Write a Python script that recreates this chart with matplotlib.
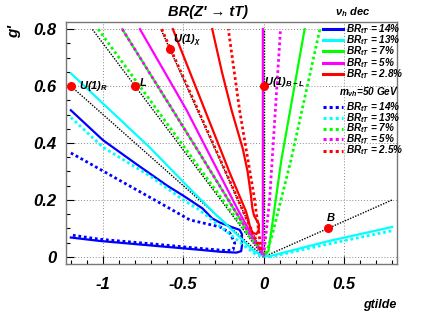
import matplotlib
matplotlib.use('Agg')

import numpy as np
from matplotlib import pyplot as plt

plt.rcParams['font.family'] = ['Liberation Sans', 'DejaVu Sans']
plt.rcParams['font.weight'] = 'bold'
plt.rcParams['font.style'] = 'italic'
plt.rcParams['mathtext.fontset'] = 'custom'
plt.rcParams['mathtext.rm'] = 'Liberation Sans:bold:italic'
plt.rcParams['mathtext.it'] = 'Liberation Sans:bold:italic'
plt.rcParams['mathtext.bf'] = 'Liberation Sans:bold:italic'
plt.rcParams['axes.unicode_minus'] = False

# nu_h decaying, solid contours
blue14_x = [-1.2, -1.0, -0.79, -0.6, -0.5, -0.38, -0.32, -0.27, -0.2, -0.15, -0.135, -0.135, -0.14, -0.17, -0.27, -0.4, -0.7, -1.02, -1.2]
blue14_y = [0.515, 0.41, 0.325, 0.25, 0.215, 0.17, 0.135, 0.12, 0.105, 0.095, 0.08, 0.04, 0.02, 0.015, 0.018, 0.025, 0.04, 0.056, 0.068]
cyan13_x = [-1.2, -1.04, -0.71, -0.46, -0.3, -0.15, -0.06, 0.0, 0.04, 0.4, 0.8]
cyan13_y = [0.645, 0.56, 0.385, 0.24, 0.15, 0.07, 0.02, 0.003, 0.003, 0.055, 0.105]
green7_x = [-0.88, -0.4, -0.1, 0.005, 0.03, 0.11, 0.255]
green7_y = [0.8, 0.365, 0.09, 0.005, 0.02, 0.34, 0.8]
mag5_x = [-0.77, -0.48, -0.16, -0.01, -0.005, -0.005]
mag5_y = [0.8, 0.516, 0.165, 0.01, 0.1, 0.8]
red28_x = [-0.565, -0.366, -0.211, -0.14, -0.11, -0.095, -0.085, -0.07, -0.045, -0.03, -0.03,
           -0.045, -0.06, -0.07, -0.08, -0.1, -0.13, -0.2, -0.26, -0.32]
red28_y = [0.8, 0.516, 0.295, 0.2, 0.16, 0.13, 0.105, 0.085, 0.08, 0.095, 0.115,
           0.13, 0.145, 0.17, 0.22, 0.3, 0.38, 0.516, 0.65, 0.8]

# m_nuh = 50 GeV, dotted contours
blue14d_x = [-1.2, -1.12, -0.9, -0.6, -0.46, -0.27, -0.21, -0.18, -0.19, -0.23, -0.4, -0.7, -1.02, -1.2]
blue14d_y = [0.365, 0.34, 0.27, 0.175, 0.13, 0.105, 0.084, 0.049, 0.025, 0.022, 0.03, 0.046, 0.062, 0.077]
cyan13d_x = [-1.2, -1.0, -0.71, -0.5, -0.4, -0.3, -0.2, -0.1, -0.04, 0.04, 0.4, 0.8]
cyan13d_y = [0.49, 0.385, 0.285, 0.2, 0.165, 0.12, 0.075, 0.03, 0.005, 0.0, 0.045, 0.092]
green7d_x = [-1.03, -0.5, -0.1, 0.01, 0.05, 0.17, 0.35]
green7d_y = [0.8, 0.39, 0.08, 0.005, 0.07, 0.34, 0.8]
mag5d_x = [-0.88, -0.4, -0.1, 0.0, 0.037, 0.105]
mag5d_y = [0.8, 0.365, 0.09, 0.005, 0.2, 0.8]
red25d_x = [-0.635, -0.3, -0.1, -0.015, -0.056, -0.15, -0.22]
red25d_y = [0.8, 0.38, 0.125, 0.02, 0.2, 0.516, 0.8]

# benchmark models: (gtilde, g') and reference lines through the origin
model_names = ['U(1)$_R$', 'L', 'U(1)$_\\chi$', 'U(1)$_{B-L}$', 'B']
model_x = [-1.2, -0.8, -0.584, 0.0, 0.4]
model_y = [0.6, 0.6, 0.73, 0.6, 0.1]
ref_end_x = [-1.2, -1.0667, -0.64, 0.0, 0.8]
ref_end_y = [0.6, 0.8, 0.8, 0.8, 0.2]

solid_labels = ['14%', '13%', '7%', '5%', '2.8%']
dotted_labels = ['14%', '13%', '7%', '5%', '2.5%']
colors = ['#0000ff', '#00ffff', '#00ff00', '#ff00ff', '#ff0000']

fig = plt.figure(figsize=(4.41, 3.31), dpi=100)
ax = fig.add_axes([0.1497, 0.2024, 0.7506, 0.7311])

dots = (0, (1, 1))
ax.grid(True, color='#888888', linestyle=(0, (1, 2)), linewidth=0.7)
ax.set_axisbelow(True)

for ex, ey in zip(ref_end_x, ref_end_y):
    ax.plot([0, ex], [0, ey], color='black', linestyle=(0, (1, 1)), linewidth=1.0)

solids = [(blue14_x, blue14_y), (cyan13_x, cyan13_y), (green7_x, green7_y),
          (mag5_x, mag5_y), (red28_x, red28_y)]
dotteds = [(blue14d_x, blue14d_y), (cyan13d_x, cyan13d_y), (green7d_x, green7d_y),
           (mag5d_x, mag5d_y), (red25d_x, red25d_y)]
for (x, y), c in zip(solids, colors):
    ax.plot(x, y, color=c, linewidth=1.6, solid_joinstyle='round')
for (x, y), c in zip(dotteds, colors):
    ax.plot(x, y, color=c, linewidth=2.0, linestyle=dots)

ax.plot(model_x, model_y, 'o', color='red', markersize=5.5, zorder=5)
label_offsets = [(0.05, 0.0), (0.03, 0.01), (0.02, 0.03), (0.0, 0.015), (-0.01, 0.035)]
for name, x, y, (dx, dy) in zip(model_names, model_x, model_y, label_offsets):
    ax.text(x + dx, y + dy, name, fontsize=8, ha='left', va='center')

ax.set_xlim(-1.23, 0.83)
ax.set_ylim(-0.025, 0.825)
ax.set_xticks([-1, -0.5, 0, 0.5])
ax.set_xticklabels(['-1', '-0.5', '0', '0.5'])
ax.set_yticks([0, 0.2, 0.4, 0.6, 0.8])
ax.set_yticklabels(['0', '0.2', '0.4', '0.6', '0.8'])
ax.set_xticks(np.arange(-1.2, 0.81, 0.1), minor=True)
ax.set_yticks(np.arange(0, 0.81, 0.05), minor=True)
ax.tick_params(which='both', direction='in', labelsize=12)
ax.tick_params(which='major', length=6, width=0.8)
ax.tick_params(which='minor', length=3, width=0.8)
ax.tick_params(axis='x', pad=9)
ax.tick_params(axis='y', pad=7)
for s in ax.spines.values():
    s.set_color('#777777')
    s.set_linewidth(1.0)

ax.text(0.43, 1.04, "BR(Z' \u2192 tT)", transform=ax.transAxes, fontsize=10.5,
        ha='center', va='center')
fig.text(0.032, 0.905, "g'", rotation=90, fontsize=11, ha='center', va='center')
fig.text(0.90, 0.078, 'gtilde', fontsize=9, ha='right', va='center')

# legend drawn ROOT style
ax.text(0.813, 1.041, '$\\nu_h$ dec', transform=ax.transAxes, fontsize=8, ha='left', va='center')
ax.text(0.825, 0.711, '$m_{\\nu h}$=50 GeV', transform=ax.transAxes, fontsize=7.2, ha='left', va='center')
solid_rows = [29, 40.2, 51.4, 62.6, 73.8]
dotted_rows = [106.7, 117.6, 128.5, 139.4, 150.5]
for rows, labels, ls in [(solid_rows, solid_labels, '-'), (dotted_rows, dotted_labels, dots)]:
    for r, lab, c in zip(rows, labels, colors):
        yf = (264 - r) / 242
        ax.plot([0.776, 0.837], [yf, yf], transform=ax.transAxes, color=c, linestyle=ls,
                linewidth=2.2, clip_on=False)
        ax.text(0.846, yf, '$BR_{tT}$ = ' + lab, transform=ax.transAxes, fontsize=7.2,
                ha='left', va='center')

plt.savefig('out.png', dpi=100)
